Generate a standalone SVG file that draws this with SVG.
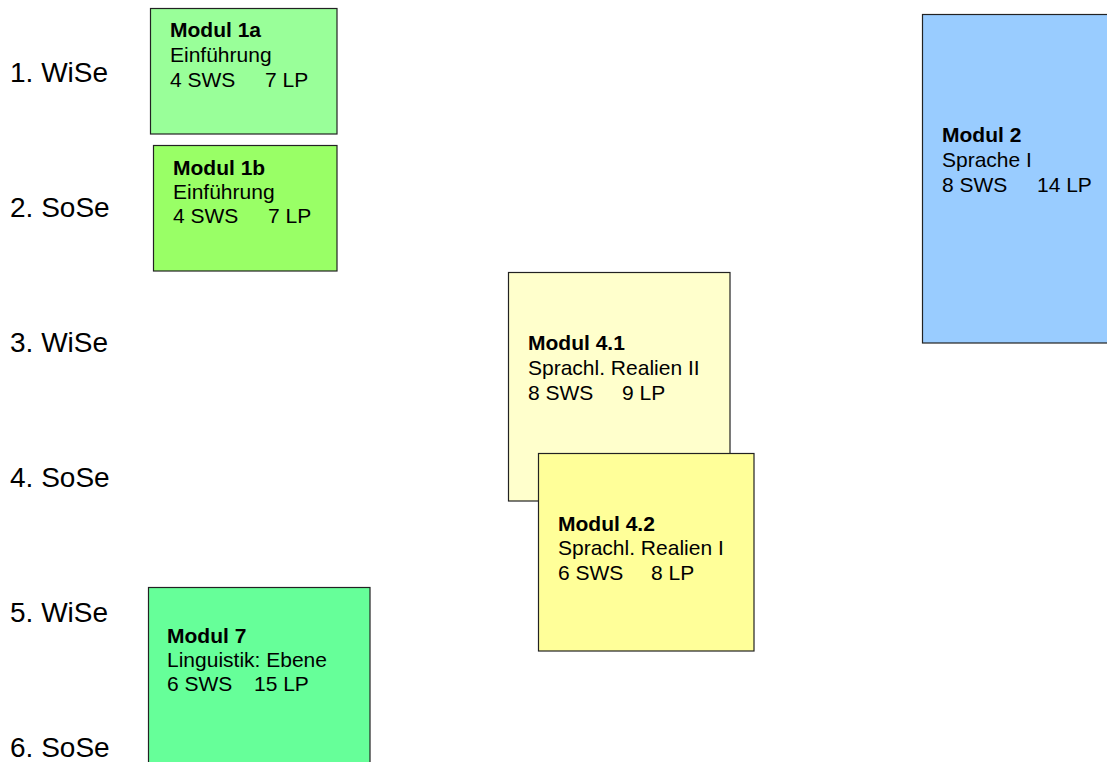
<svg xmlns="http://www.w3.org/2000/svg" width="1107" height="762" viewBox="0 0 1107 762">
<style>
.box{stroke:#222;stroke-width:1.2}
.t{font-family:"Liberation Sans",Arial,sans-serif;font-size:21px;fill:#000}
.b{font-weight:bold}
.sem{font-family:"Liberation Sans",Arial,sans-serif;font-size:28px;fill:#000}
</style>
<rect width="1107" height="762" fill="#fff"/>
<g id="semesters">
<text class="sem" x="10" y="82">1. WiSe</text>
<text class="sem" x="10" y="217">2. SoSe</text>
<text class="sem" x="10" y="352">3. WiSe</text>
<text class="sem" x="10" y="487">4. SoSe</text>
<text class="sem" x="10" y="622">5. WiSe</text>
<text class="sem" x="10" y="757">6. SoSe</text>
</g>
<g id="modul1a">
<rect class="box" x="150.5" y="8.5" width="186.5" height="125.5" fill="#99FF99"/>
<text class="t b" x="170" y="37">Modul 1a</text>
<text class="t" x="170" y="62">Einführung</text>
<text class="t" x="170" y="87">4 SWS<tspan x="265">7 LP</tspan></text>
</g>
<g id="modul1b">
<rect class="box" x="153.5" y="145.5" width="183.5" height="125.5" fill="#99FF66"/>
<text class="t b" x="173" y="175">Modul 1b</text>
<text class="t" x="173" y="199">Einführung</text>
<text class="t" x="173" y="223">4 SWS<tspan x="268">7 LP</tspan></text>
</g>
<g id="modul2">
<rect class="box" x="922.5" y="14.5" width="200" height="328.5" fill="#99CCFF"/>
<text class="t b" x="942" y="142">Modul 2</text>
<text class="t" x="942" y="167">Sprache I</text>
<text class="t" x="942" y="192">8 SWS<tspan x="1037">14 LP</tspan></text>
</g>
<g id="modul4_1">
<rect class="box" x="508.5" y="272.5" width="221.5" height="228.5" fill="#FFFFCC"/>
<text class="t b" x="528" y="350">Modul 4.1</text>
<text class="t" x="528" y="375">Sprachl. Realien II</text>
<text class="t" x="528" y="400">8 SWS<tspan x="622">9 LP</tspan></text>
</g>
<g id="modul4_2">
<rect class="box" x="538.5" y="453.5" width="215.5" height="197.5" fill="#FFFF99"/>
<text class="t b" x="558" y="531">Modul 4.2</text>
<text class="t" x="558" y="555">Sprachl. Realien I</text>
<text class="t" x="558" y="580">6 SWS<tspan x="651">8 LP</tspan></text>
</g>
<g id="modul7">
<rect class="box" x="148.5" y="587.5" width="221.5" height="200" fill="#66FF99"/>
<text class="t b" x="167" y="643">Modul 7</text>
<text class="t" x="167" y="667">Linguistik: Ebene</text>
<text class="t" x="167" y="691">6 SWS<tspan x="254">15 LP</tspan></text>
</g>
<g id="connectors"/>
</svg>
